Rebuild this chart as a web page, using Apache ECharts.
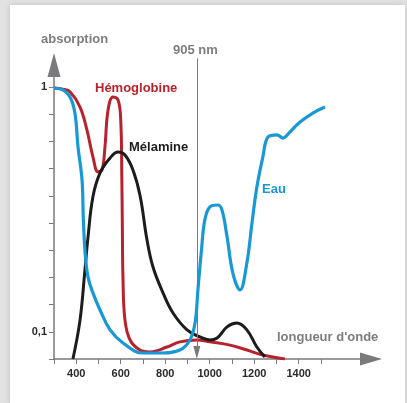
<!DOCTYPE html>
<html><head><meta charset="utf-8">
<script src="https://cdn.jsdelivr.net/npm/echarts@6/dist/echarts.min.js"></script>
<style>html,body{margin:0;padding:0;background:#e2e2e2}#c{width:407px;height:403px}</style>
</head><body><div id="c"></div>
<script>
// wavelength (nm), absorption (relative)
var eau = [[300,0.996],[340,0.989],[372,0.963],[394,0.904],[408,0.779],[426,0.658],[432,0.511],[440,0.390],[453,0.301],[475,0.243],[507,0.180],[552,0.107],[610,0.059],[700,0.022],[776,0.022],[866,0.033],[911,0.070],[934,0.132],[947,0.254],[963,0.401],[978,0.511],[1001,0.559],[1037,0.566],[1055,0.548],[1078,0.449],[1104,0.316],[1136,0.254],[1167,0.353],[1190,0.500],[1212,0.632],[1239,0.743],[1262,0.816],[1302,0.824],[1329,0.812],[1361,0.835],[1406,0.871],[1464,0.904],[1518,0.926]];
var hemoglobine = [[300,0.996],[340,0.992],[372,0.982],[417,0.926],[448,0.842],[475,0.743],[498,0.688],[516,0.695],[529,0.779],[543,0.915],[565,0.963],[588,0.952],[600,0.879],[605,0.658],[607,0.511],[610,0.301],[619,0.143],[642,0.070],[687,0.033],[731,0.026],[808,0.044],[866,0.063],[943,0.070],[1001,0.063],[1091,0.051],[1167,0.033],[1239,0.015],[1338,0.0]];
var melamine = [[385,0.0],[417,0.143],[439,0.327],[453,0.449],[475,0.596],[507,0.684],[552,0.739],[588,0.761],[619,0.750],[655,0.695],[687,0.600],[718,0.438],[745,0.338],[790,0.243],[835,0.169],[898,0.107],[956,0.081],[1001,0.070],[1033,0.077],[1078,0.118],[1122,0.132],[1167,0.107],[1212,0.044],[1248,0.007]];
var xTicks = [300,400,500,600,700,800,900,1000,1100,1200,1300,1400,1500];
var xLabels = [400,600,800,1000,1200,1400];
var yTicks = [0,0.1,0.2,0.3,0.4,0.5,0.6,0.7,0.8,0.9,1];
var yLabels = [0.1,1];
var markerNm = 942; // position of the "905 nm" line as drawn
var markerTop = 1.105;

var FONT = '"Liberation Sans",Arial,Helvetica,sans-serif';
var GRAY = '#7d7d80';
var chart = echarts.init(document.getElementById('c'), null, {renderer:'canvas'});
function lbl(text, x, y, color, size){
  return {type:'text', x:x, y:y, z:50, style:{text:text, fill:color, font:'bold '+size+'px '+FONT, textAlign:'left', textVerticalAlign:'middle'}};
}
chart.setOption({
  animation:false,
  backgroundColor:'#e2e2e2',
  grid:{left:54, top:57, right:36, bottom:44, containLabel:false},
  xAxis:{type:'value', min:300, max:1725,
    axisLine:{onZero:true, lineStyle:{color:'#7a7a7c', width:1.5}, symbol:['none','triangle'], symbolSize:[13,22]},
    axisTick:{show:true, length:5, customValues:xTicks, lineStyle:{color:'#7a7a7c', width:1}},
    axisLabel:{customValues:xLabels, margin:9, color:'#2a2a2a', fontWeight:'bold', fontSize:11, fontFamily:FONT,
      formatter:function(v){return String(v);}},
    splitLine:{show:false}},
  yAxis:{type:'value', min:0, max:1.11,
    axisLine:{show:true, lineStyle:{color:'#7a7a7c', width:1.5}, symbol:['none','triangle'], symbolSize:[13,24], symbolOffset:[0,-8]},
    axisTick:{show:true, length:5, customValues:yTicks, lineStyle:{color:'#7a7a7c', width:1}},
    axisLabel:{customValues:yLabels, margin:7, color:'#2a2a2a', fontWeight:'bold', fontSize:11, fontFamily:FONT,
      formatter:function(v){return String(v).replace('.',',');}},
    splitLine:{show:false}},
  graphic:[
    {type:'rect', z:-100, shape:{x:10, y:5, width:395, height:400}, style:{fill:'#ffffff', shadowBlur:6, shadowColor:'rgba(0,0,0,0.15)'}},
    lbl('absorption', 41, 39, GRAY, 13),
    lbl('905 nm', 173, 50, GRAY, 13),
    lbl('longueur d\'onde', 277, 337, GRAY, 13),
    lbl('Hémoglobine', 95, 88, '#b8222c', 13),
    lbl('Mélamine', 129, 147, '#1c1c1c', 13),
    lbl('Eau', 262, 189, '#1898d5', 13)
  ],
  series:[
    {type:'line', name:'Hémoglobine', data:hemoglobine, showSymbol:false, smooth:0.4, z:3,
      lineStyle:{color:'#b8222c', width:3}},
    {type:'line', name:'Mélamine', data:melamine, showSymbol:false, smooth:0.4, z:4,
      lineStyle:{color:'#1c1c1c', width:3},
      markLine:{silent:true, symbol:['none','triangle'], symbolSize:[7,13], label:{show:false},
        lineStyle:{color:'#7a7a7c', width:1, type:'solid'},
        data:[[{coord:[markerNm, markerTop]},{coord:[markerNm, 0.024]}]]}},
    {type:'line', name:'Eau', data:eau, showSymbol:false, smooth:0.4, z:5,
      lineStyle:{color:'#1898d5', width:3.2}}
  ]
});
</script></body></html>
